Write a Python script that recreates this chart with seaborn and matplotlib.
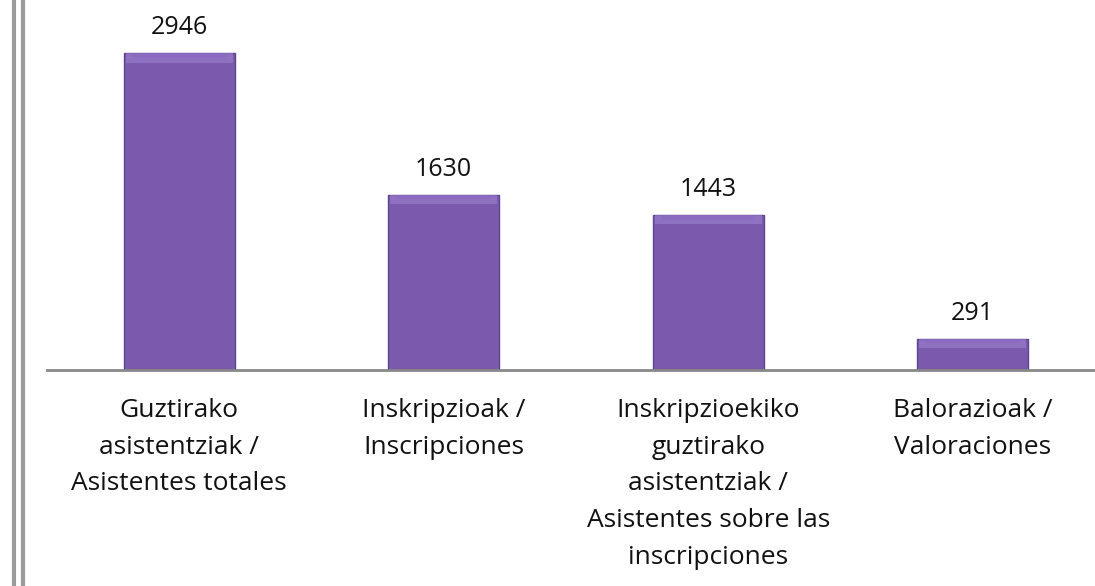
import matplotlib.pyplot as plt
import matplotlib.patches as mpatches
from matplotlib.lines import Line2D
import seaborn as sns
import pandas as pd

# Data
categories = [
    'Guztirako\nasistentziak /\nAsistentes totales',
    'Inskripzioak /\nInscripciones',
    'Inskripzioekiko\nguztirako\nasistentziak /\nAsistentes sobre las\ninscripciones',
    'Balorazioak /\nValoraciones',
]
values = [2946, 1630, 1443, 291]

sns.set_style('white')
plt.rcParams['font.family'] = ['Open Sans', 'DejaVu Sans']

df = pd.DataFrame({'cat': categories, 'val': values})

fig = plt.figure(figsize=(10.95, 5.86), dpi=100)
ax = fig.add_axes([47 / 1095, 216 / 586, 1058 / 1095, 370 / 586])

sns.barplot(data=df, x='cat', y='val', color='#7b5aad', width=0.42,
            saturation=1, edgecolor='#5e4590', linewidth=1, ax=ax)

# bevel highlight on top of each bar
for p in ax.patches[:len(values)]:
    x0, w = p.get_x(), p.get_width()
    top = p.get_y() + p.get_height()
    band = min(90, p.get_height() * 0.3)
    ax.add_patch(mpatches.Rectangle((x0 + w * 0.02, top - band), w * 0.96, band,
                                    color='#a184d4', alpha=0.55, lw=0, zorder=3))
    ax.add_patch(mpatches.Rectangle((x0 + w * 0.08, top - band * 0.5), w * 0.84, band * 0.5,
                                    color='#8a6ac0', alpha=0.6, lw=0, zorder=3))

for i, v in enumerate(values):
    ax.annotate(str(v), (i, v), xytext=(0, 9), textcoords='offset points',
                ha='center', va='bottom', fontsize=18, color='#111111')

ax.set_ylim(0, 3438)
ax.set_yticks([])
ax.set_xlabel('')
ax.set_ylabel('')
sns.despine(ax=ax, left=True, top=True, right=True)
ax.spines['bottom'].set_color('#888888')
ax.spines['bottom'].set_linewidth(2)
ax.tick_params(axis='x', length=0, pad=20, labelsize=19)
for lbl in ax.get_xticklabels():
    lbl.set_linespacing(1.62)
    lbl.set_color('#111111')

# double border line at the left edge
for xp in [14, 23]:
    fig.add_artist(Line2D([xp / 1095, xp / 1095], [0, 1], color='#9a9a9a',
                          lw=3, transform=fig.transFigure))

plt.savefig('out.png', dpi=100)
